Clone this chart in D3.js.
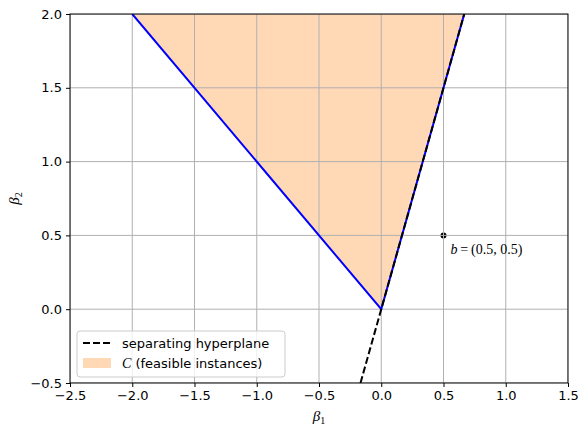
<!DOCTYPE html>
<meta charset="utf-8">
<script src="https://d3js.org/d3.v7.min.js"></script>
<style>
  body { margin: 0; background: #fff; }
  text { font-family: "DejaVu Sans", sans-serif; }
</style>
<div id="vis"></div>
<script>

// data
var xTicks = [-2.5, -2.0, -1.5, -1.0, -0.5, 0.0, 0.5, 1.0, 1.5];
var yTicks = [-0.5, 0.0, 0.5, 1.0, 1.5, 2.0];
var feasible = [[-2, 2], [0, 0], [2 / 3, 2]];        // region C
var boundary = [[-2, 2], [0, 0], [2 / 3, 2]];        // blue boundary of C
var hyperplane = [[-1 / 6, -0.5], [2 / 3, 2]];       // beta2 = 3 beta1
var pointB = [0.5, 0.5];

var margin = {top: 14, right: 12, bottom: 44, left: 70},
    width = 580 - margin.left - margin.right,
    height = 427 - margin.top - margin.bottom;

var svg = d3.select("#vis")
  .append("svg")
    .attr("width", 580)
    .attr("height", 427);

var g = svg.append("g")
    .attr("transform", "translate(" + margin.left + "," + margin.top + ")");

var x = d3.scaleLinear().domain([-2.5, 1.5]).range([0, width]);
var y = d3.scaleLinear().domain([-0.5, 2.0]).range([height, 0]);

var fmt = function(d) { return d3.format(".1f")(d).replace("-", "\u2212"); };

// clip
g.append("clipPath").attr("id", "clip")
  .append("rect").attr("width", width).attr("height", height);

var plot = g.append("g").attr("clip-path", "url(#clip)");

// feasible region
plot.append("path")
  .datum(feasible)
  .attr("d", d3.line().x(d => x(d[0])).y(d => y(d[1])).curve(d3.curveLinearClosed))
  .style("fill", "#ff7f0e")
  .style("fill-opacity", 0.3);

// point b (under the grid)
plot.append("circle")
  .attr("cx", x(pointB[0]))
  .attr("cy", y(pointB[1]))
  .attr("r", 3)
  .style("fill", "black");

// grid
plot.append("g").selectAll("line").data(xTicks).enter().append("line")
  .attr("x1", d => x(d)).attr("x2", d => x(d))
  .attr("y1", 0).attr("y2", height)
  .style("stroke", "#b0b0b0").style("stroke-width", 1);
plot.append("g").selectAll("line").data(yTicks).enter().append("line")
  .attr("y1", d => y(d)).attr("y2", d => y(d))
  .attr("x1", 0).attr("x2", width)
  .style("stroke", "#b0b0b0").style("stroke-width", 1);

// boundary
plot.append("path")
  .datum(boundary)
  .attr("d", d3.line().x(d => x(d[0])).y(d => y(d[1])))
  .style("fill", "none")
  .style("stroke", "#0000ff")
  .style("stroke-width", 2);

// separating hyperplane
plot.append("path")
  .datum(hyperplane)
  .attr("d", d3.line().x(d => x(d[0])).y(d => y(d[1])))
  .style("fill", "none")
  .style("stroke", "black")
  .style("stroke-width", 2)
  .style("stroke-dasharray", "7,3");

// label of b
var lb = g.append("text")
  .attr("x", x(pointB[0]) + 7)
  .attr("y", y(pointB[1]) + 19)
  .style("font-size", "14px")
  .style("font-family", "'Liberation Serif', serif");
lb.append("tspan").style("font-style", "italic").text("b");
lb.append("tspan").text("\u2009=\u2009(0.5, 0.5)");

// axes
var xAxis = g.append("g")
  .attr("transform", "translate(0," + height + ")")
  .call(d3.axisBottom(x).tickValues(xTicks).tickFormat(fmt).tickSizeOuter(0).tickSize(4).tickPadding(4));
var yAxis = g.append("g")
  .call(d3.axisLeft(y).tickValues(yTicks).tickFormat(fmt).tickSizeOuter(0).tickSize(4).tickPadding(4));
[xAxis, yAxis].forEach(function(a) {
  a.selectAll("text").style("font-size", "13px").style("font-family", "'DejaVu Sans', sans-serif").attr("fill", "#000");
  a.select(".domain").remove();
  a.selectAll("line").attr("stroke", "#000");
});

// frame
g.append("rect")
  .attr("width", width).attr("height", height)
  .style("fill", "none").style("stroke", "black").style("stroke-width", 1);

// axis labels
var xl = g.append("text")
  .attr("x", width / 2).attr("y", height + 38)
  .style("text-anchor", "middle").style("font-size", "15px")
  .style("font-family", "'Liberation Serif', serif").style("font-style", "italic");
xl.append("tspan").text("\u03B2");
xl.append("tspan").attr("dy", 3).style("font-size", "10px").style("font-style", "normal").text("1");

var yl = g.append("text")
  .attr("transform", "translate(-51," + (height / 2) + ") rotate(-90)")
  .style("text-anchor", "middle").style("font-size", "15px")
  .style("font-family", "'Liberation Serif', serif").style("font-style", "italic");
yl.append("tspan").text("\u03B2");
yl.append("tspan").attr("dy", 3).style("font-size", "10px").style("font-style", "normal").text("2");

// legend
var leg = g.append("g").attr("transform", "translate(7," + (height - 52) + ")");
leg.append("rect")
  .attr("width", 208).attr("height", 46).attr("rx", 3)
  .style("fill", "white").style("fill-opacity", 0.8)
  .style("stroke", "#cccccc").style("stroke-width", 1);
leg.append("line")
  .attr("x1", 6).attr("x2", 34).attr("y1", 12).attr("y2", 12)
  .style("stroke", "black").style("stroke-width", 2).style("stroke-dasharray", "7,3");
leg.append("text").attr("x", 45).attr("y", 16.5)
  .style("font-size", "13px").text("separating hyperplane");
leg.append("rect")
  .attr("x", 6).attr("y", 27).attr("width", 28).attr("height", 10)
  .style("fill", "#ff7f0e").style("fill-opacity", 0.3);
var lt = leg.append("text").attr("x", 45).attr("y", 37).style("font-size", "13px");
lt.append("tspan").style("font-family", "'Liberation Serif', serif").style("font-style", "italic").style("font-size", "14px").text("C");
lt.append("tspan").text(" (feasible instances)");

</script>
